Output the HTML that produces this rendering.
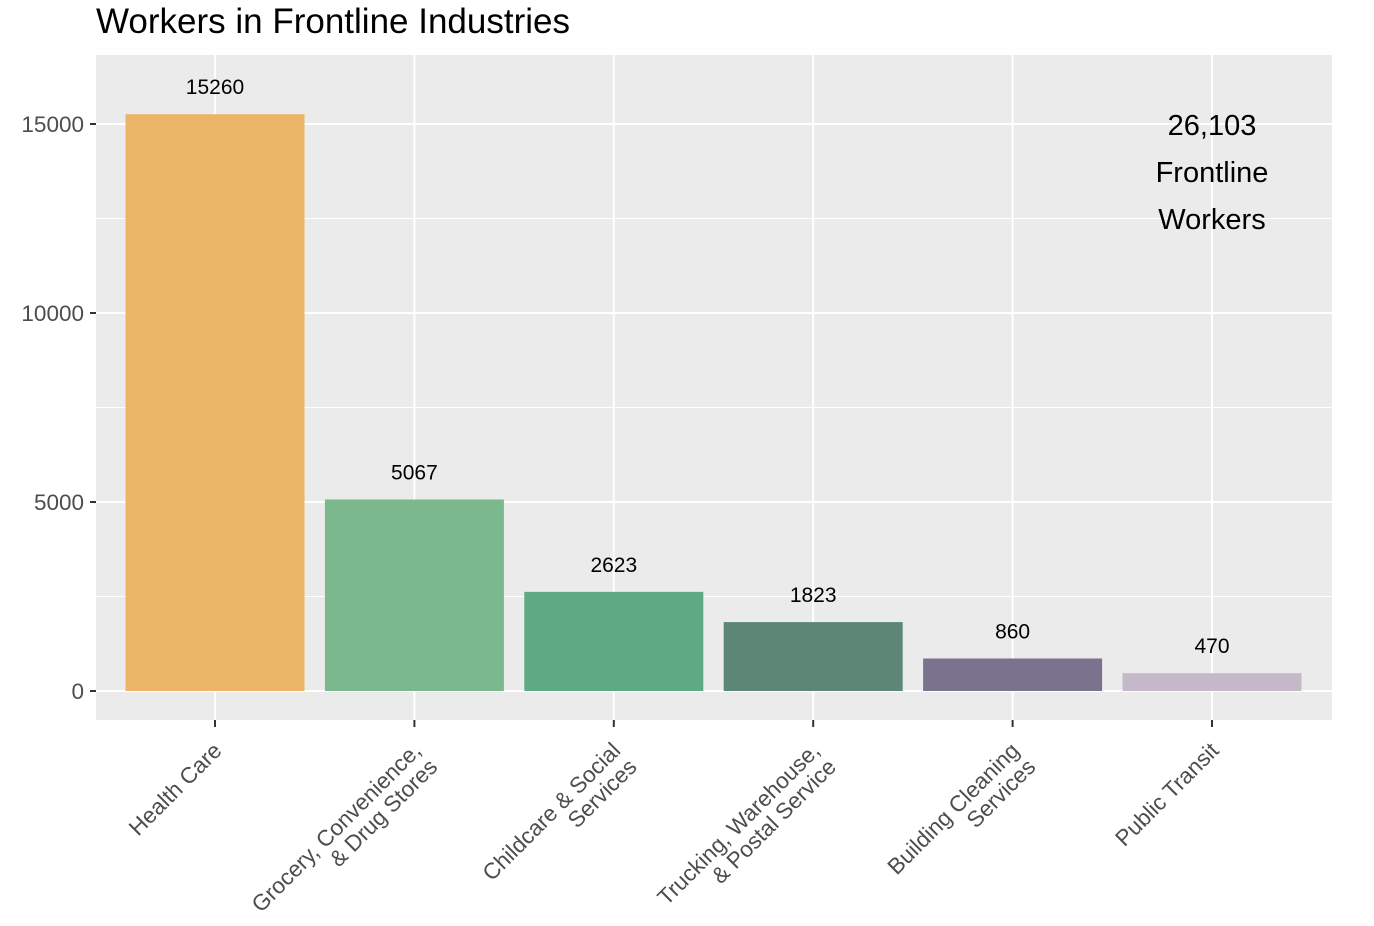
<!DOCTYPE html>
<html><head><meta charset="utf-8"><style>
body{margin:0;background:#fff;}
svg{display:block;font-family:"Liberation Sans",Arial,sans-serif;}
</style></head><body>
<svg id="chart" width="1374" height="926">
<text x="96" y="33" font-size="35" fill="#000">Workers in Frontline Industries</text>
<rect x="96" y="55" width="1236" height="665" fill="#EBEBEB"/>
<g id="grid"></g><g id="bars"></g><g id="axes"></g>
<g font-size="29" text-anchor="middle" fill="#000">
<text x="1212" y="135">26,103</text><text x="1212" y="182">Frontline</text><text x="1212" y="229">Workers</text>
</g>
</svg>
<script>
const categories=[["Health Care"],["Grocery, Convenience,","& Drug Stores"],["Childcare & Social","Services"],["Trucking, Warehouse,","& Postal Service"],["Building Cleaning","Services"],["Public Transit"]];
const values=[15260,5067,2623,1823,860,470];
const colors=["#EAB566","#7BB88E","#5EAA84","#5C8776","#7A738D","#C4B8C9"];
const yTicks=[0,5000,10000,15000];
const NS="http://www.w3.org/2000/svg";
const y=v=>691-v*567/15000;
const x=i=>215+i*199.4;
const bw=179;
function mk(tag,attrs,parent){const e=document.createElementNS(NS,tag);for(const k in attrs)e.setAttribute(k,attrs[k]);parent.appendChild(e);return e;}
const grid=document.getElementById('grid'),bars=document.getElementById('bars'),axes=document.getElementById('axes');
[2500,7500,12500].forEach(v=>{const l=mk('line',{x1:96,x2:1332,y1:y(v),y2:y(v),stroke:'#fff','stroke-width':1},grid);

});
yTicks.forEach(v=>{const l=mk('line',{x1:96,x2:1332,y1:y(v),y2:y(v),stroke:'#fff','stroke-width':2},grid);


const t=mk('line',{x1:90,x2:96,y1:y(v),y2:y(v),stroke:'#333','stroke-width':2},axes);


const tx=mk('text',{x:84,y:y(v)+8,'text-anchor':'end','font-size':22.5,fill:'#4D4D4D'},axes);tx.textContent=v;

});
values.forEach((v,i)=>{
const g=mk('line',{x1:x(i),x2:x(i),y1:55,y2:720,stroke:'#fff','stroke-width':2},grid);


const r=mk('rect',{x:x(i)-bw/2,y:y(v),width:bw,height:y(0)-y(v),fill:colors[i]},bars);


const lb=mk('text',{x:x(i),y:y(v)-20,'text-anchor':'middle','font-size':21,fill:'#000'},bars);lb.textContent=v;


const t=mk('line',{x1:x(i),x2:x(i),y1:720,y2:727,stroke:'#333','stroke-width':2},axes);


const gg=mk('g',{transform:`translate(${x(i)+8},${752}) rotate(-45)`,'font-size':22.5,fill:'#4D4D4D'},axes);


categories[i].forEach((s,j)=>{const e=mk('text',{x:0,y:j*23,'text-anchor':'end'},gg);e.textContent=s;});
});
</script>
</body></html>
